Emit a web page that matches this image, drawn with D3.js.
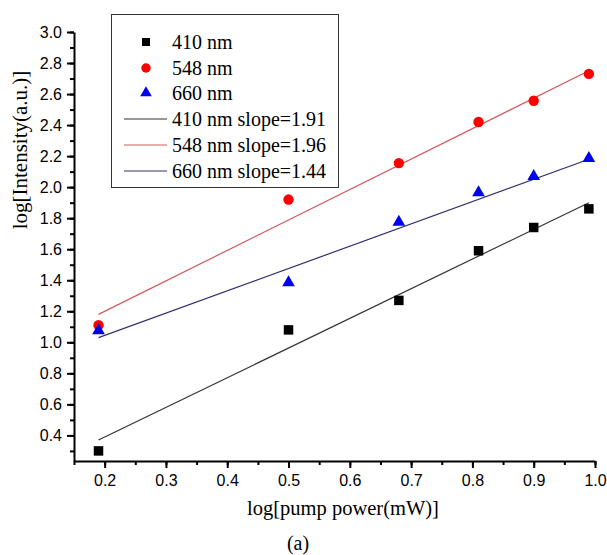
<!DOCTYPE html>
<html>
<head>
<meta charset="utf-8">
<script src="https://cdn.jsdelivr.net/npm/d3@7"></script>
<style>
  body { margin: 0; background: #fff; }
  .tick text { font-family: "Liberation Sans", Arial, sans-serif; }
</style>
</head>
<body>
<div id="chart"></div>
<script>
// data
var xVals = [0.19, 0.50, 0.68, 0.81, 0.90, 0.99];
var y410 = [0.30, 1.08, 1.27, 1.59, 1.74, 1.86];
var y548 = [1.11, 1.92, 2.155, 2.42, 2.557, 2.73];
var y660 = [1.075, 1.385, 1.775, 1.965, 2.07, 2.185];

// fitted lines, values at both ends
var fitX = [0.19, 0.99];
var fit410 = [0.37, 1.90];
var fit548 = [1.18, 2.75];
var fit660 = [1.03, 2.18];

var legendLabels = ["410 nm", "548 nm", "660 nm",
  "410 nm slope=1.91", "548 nm slope=1.96", "660 nm slope=1.44"];
var xTicks = [0.2, 0.3, 0.4, 0.5, 0.6, 0.7, 0.8, 0.9, 1.0];
var yTicks = [0.4, 0.6, 0.8, 1.0, 1.2, 1.4, 1.6, 1.8, 2.0, 2.2, 2.4, 2.6, 2.8, 3.0];

var width = 607, height = 555;
var margin = {top: 32, right: 12, bottom: 94, left: 74};
var serif = "'Liberation Serif', 'Times New Roman', serif";

var svg = d3.select("#chart")
  .append("svg")
    .attr("width", width)
    .attr("height", height);

var X = d3.scaleLinear()
    .domain([0.15, 1.0])
    .range([margin.left, width - margin.right]);
var Y = d3.scaleLinear()
    .domain([0.235, 3.0])
    .range([height - margin.bottom, margin.top]);

// minor ticks first, then majors
svg.append("g")
    .attr("transform", "translate(0," + Y(0.235) + ")")
    .call(d3.axisBottom(X).tickValues(d3.range(0.15, 1.001, 0.05)).tickSize(4).tickFormat(""))
    .call(function(g) { g.select(".domain").remove(); })
    .selectAll("line").attr("stroke-width", 2);
svg.append("g")
    .attr("transform", "translate(" + X(0.15) + ",0)")
    .call(d3.axisLeft(Y).tickValues(d3.range(0.3, 3.001, 0.1)).tickSize(4).tickFormat(""))
    .call(function(g) { g.select(".domain").remove(); })
    .selectAll("line").attr("stroke-width", 2);

var xAxis = svg.append("g")
    .attr("transform", "translate(0," + Y(0.235) + ")")
    .call(d3.axisBottom(X).tickValues(xTicks).tickSize(7).tickSizeOuter(0).tickPadding(7)
      .tickFormat(d3.format(".1f")));
xAxis.select(".domain").attr("stroke-width", 2);
xAxis.selectAll("line").attr("stroke-width", 2);
xAxis.selectAll("text").style("font-size", "16px").attr("fill", "#000");

var yAxis = svg.append("g")
    .attr("transform", "translate(" + X(0.15) + ",0)")
    .call(d3.axisLeft(Y).tickValues(yTicks).tickSize(7).tickSizeOuter(0).tickPadding(5)
      .tickFormat(d3.format(".1f")));
yAxis.select(".domain").attr("stroke-width", 2);
yAxis.selectAll("line").attr("stroke-width", 2);
yAxis.selectAll("text").style("font-size", "16px").attr("fill", "#000");

// fit lines
var fits = [
  {vals: fit410, color: "#333333"},
  {vals: fit548, color: "#d05a5a"},
  {vals: fit660, color: "#30306e"}
];
var line = d3.line()
  .x(function(d) { return X(d[0]); })
  .y(function(d) { return Y(d[1]); });
fits.forEach(function(f) {
  svg.append("path")
    .datum(d3.zip(fitX, f.vals))
    .attr("d", line)
    .attr("fill", "none")
    .attr("stroke", f.color)
    .attr("stroke-width", 1.2);
});

// markers
var square = d3.symbol().type(d3.symbolSquare).size(90);
var circle = d3.symbol().type(d3.symbolCircle).size(85);
var tri = d3.symbol().type(d3.symbolTriangle).size(70);

var series = [
  {vals: y410, sym: square, color: "#000"},
  {vals: y548, sym: circle, color: "#f00"},
  {vals: y660, sym: tri, color: "#0000f0"}
];
series.forEach(function(s) {
  svg.selectAll(null)
    .data(d3.zip(xVals, s.vals))
    .enter()
    .append("path")
      .attr("d", s.sym)
      .attr("transform", function(d) { return "translate(" + X(d[0]) + "," + Y(d[1]) + ")"; })
      .attr("fill", s.color);
});

// legend
var legend = svg.append("g");
legend.append("rect")
  .attr("x", 111.5).attr("y", 14.5)
  .attr("width", 227).attr("height", 173)
  .attr("fill", "#fff").attr("stroke", "#333").attr("stroke-width", 1);
var legSymSize = [d3.symbol().type(d3.symbolSquare).size(64),
                  d3.symbol().type(d3.symbolCircle).size(70),
                  d3.symbol().type(d3.symbolTriangle).size(58)];
var rowY = [42, 68, 93, 119, 145, 171];
legendLabels.forEach(function(lbl, i) {
  if (i < 3) {
    legend.append("path")
      .attr("d", legSymSize[i])
      .attr("transform", "translate(146," + rowY[i] + ")")
      .attr("fill", series[i].color);
  } else {
    legend.append("line")
      .attr("x1", 124).attr("x2", 167)
      .attr("y1", rowY[i]).attr("y2", rowY[i])
      .attr("stroke", fits[i - 3].color).attr("stroke-width", 1.2);
  }
  legend.append("text")
    .attr("x", 172).attr("y", rowY[i])
    .attr("dy", "0.35em")
    .style("font-family", serif)
    .style("font-size", "20px")
    .text(lbl);
});

// axis titles
svg.append("text")
  .attr("text-anchor", "middle")
  .attr("x", 343).attr("y", 515)
  .style("font-family", serif)
  .style("font-size", "20.5px")
  .text("log[pump power(mW)]");
svg.append("text")
  .attr("text-anchor", "middle")
  .attr("transform", "translate(27,150) rotate(-90)")
  .style("font-family", serif)
  .style("font-size", "21px")
  .text("log[Intensity(a.u.)]");
svg.append("text")
  .attr("text-anchor", "middle")
  .attr("x", 298).attr("y", 550)
  .style("font-family", serif)
  .style("font-size", "20px")
  .text("(a)");
</script>
</body>
</html>
